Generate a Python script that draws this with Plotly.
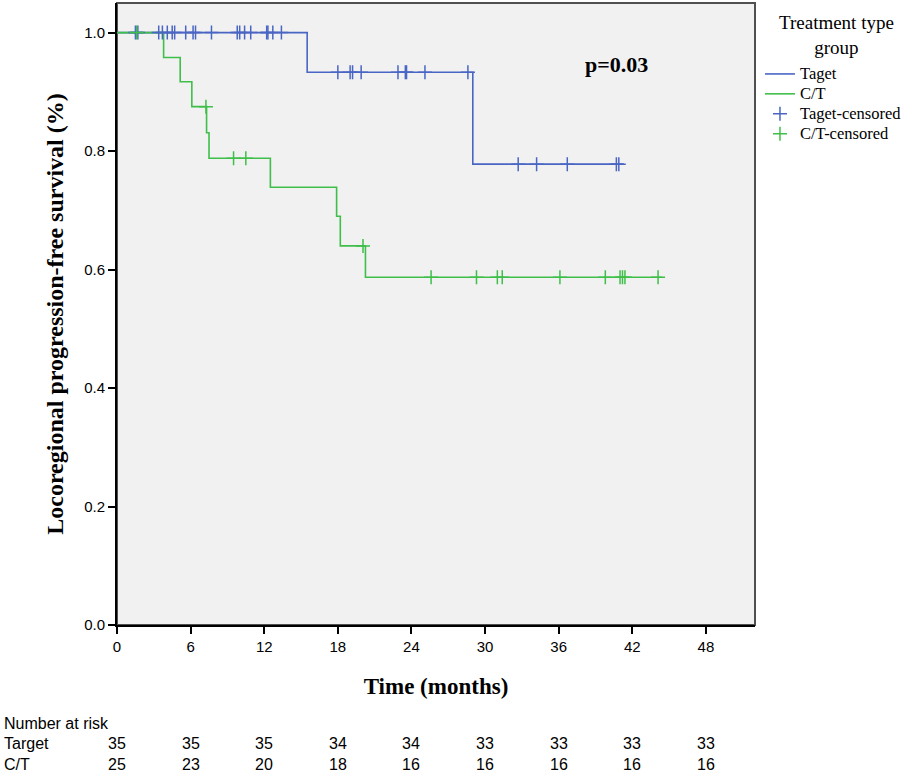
import numpy as np
import plotly.graph_objects as go

# ── Data ───────────────────────────────────────────────────────────────────
target_event_times = [15.5, 29.0]
target_event_surv = [0.933, 0.778]
target_last_time = 41.3
target_censor_times = [1.5, 1.7, 3.4, 3.7, 4.1, 4.5, 4.7, 5.6, 6.2, 6.4, 7.7,
                       9.8, 10.0, 10.4, 10.9, 12.2, 12.3, 12.7, 13.4,
                       18.0, 19.0, 19.2, 19.9, 22.9, 23.5, 23.6, 25.1, 28.6,
                       32.7, 34.2, 36.7, 40.7, 40.9]

ct_event_times = [3.8, 5.15, 6.1, 7.3, 7.5, 12.5, 17.9, 18.2, 20.25]
ct_event_surv = [0.958, 0.917, 0.875, 0.831, 0.788, 0.739, 0.690, 0.640, 0.587]
ct_last_time = 44.4
ct_censor_times = [1.6, 7.25, 9.5, 10.5, 20.05, 25.6, 29.3, 31.0, 31.4,
                   36.1, 39.8, 41.0, 41.2, 41.4, 44.1]

risk_times = [0, 6, 12, 18, 24, 30, 36, 42, 48]
target_risk = [35, 35, 35, 34, 34, 33, 33, 33, 33]
ct_risk = [25, 23, 20, 18, 16, 16, 16, 16, 16]

BLUE = '#4A66C4'
GREEN = '#3FBF4A'
SERIF = 'Liberation Serif, Times New Roman, serif'
SANS = 'Liberation Sans Narrow, Liberation Sans, Arial, sans-serif'


def step_curve(times, surv, last):
    x = [0.0] + list(times) + [last]
    y = [1.0] + list(surv) + [surv[-1]]
    return x, y


def surv_at(t_list, times, surv):
    lv = np.concatenate([[1.0], surv])
    idx = np.searchsorted(np.array(times), np.array(t_list), side='right')
    return lv[idx]


def legend_name(txt):
    # larger glyphs than the legend's line spacing allows
    return f'<span style="font-size:16.5px">{txt}</span>'


fig = go.Figure()

for name, times, surv, last, col in [
        ('Taget', target_event_times, target_event_surv, target_last_time, BLUE),
        ('C/T', ct_event_times, ct_event_surv, ct_last_time, GREEN)]:
    sx, sy = step_curve(times, surv, last)
    fig.add_trace(go.Scatter(x=sx, y=sy, mode='lines', name=legend_name(name),
                             line=dict(color=col, width=1.6, shape='hv')))

for name, ctimes, times, surv, col in [
        ('Taget-censored', target_censor_times, target_event_times, target_event_surv, BLUE),
        ('C/T-censored', ct_censor_times, ct_event_times, ct_event_surv, GREEN)]:
    fig.add_trace(go.Scatter(
        x=ctimes, y=surv_at(ctimes, times, surv), mode='markers',
        name=legend_name(name),
        marker=dict(symbol='cross-thin', size=10, color=col,
                    line=dict(color=col, width=1.5))))

# p value
fig.add_annotation(x=40.7, y=0.946, xref='x', yref='y', text='<b>p=0.03</b>',
                   showarrow=False, font=dict(family=SERIF, size=22, color='black'))

# legend title (centred two lines)
fig.add_annotation(x=1.1285, y=0.9486, xref='paper', yref='paper',
                   text='Treatment type<br>group', showarrow=False,
                   xanchor='center', yanchor='middle', align='center',
                   font=dict(family=SERIF, size=19, color='black'))

# number-at-risk table
row_y = [-0.158, -0.191, -0.2235]
fig.add_annotation(x=-0.18, y=row_y[0], xref='paper', yref='paper',
                   text='Number at risk', showarrow=False, xanchor='left',
                   yanchor='middle', font=dict(family=SANS, size=16, color='black'))
for label, vals, ry in [('Target', target_risk, row_y[1]), ('C/T', ct_risk, row_y[2])]:
    fig.add_annotation(x=-0.18, y=ry, xref='paper', yref='paper', text=label,
                       showarrow=False, xanchor='left', yanchor='middle',
                       font=dict(family=SANS, size=16, color='black'))
    for t, v in zip(risk_times, vals):
        fig.add_annotation(x=t, y=ry, xref='x', yref='paper', text=str(v),
                           showarrow=False, xanchor='center', yanchor='middle',
                           font=dict(family=SANS, size=16, color='black'))

# gray frame round the plot area
fig.add_shape(type='rect', xref='paper', yref='paper', x0=0, y0=0, x1=1, y1=1,
              line=dict(color='#505050', width=2), layer='below')

fig.update_xaxes(range=[0, 52], tickvals=risk_times, ticks='outside', ticklen=7,
                 tickwidth=1.5, tickcolor='black', showline=True, linecolor='black',
                 linewidth=2, showgrid=False, zeroline=False,
                 tickfont=dict(family=SANS, size=15, color='black'),
                 title=dict(text='<b>Time (months)</b>', standoff=24,
                            font=dict(family=SERIF, size=23, color='black')))
fig.update_yaxes(range=[0, 1.05], tickvals=[0, 0.2, 0.4, 0.6, 0.8, 1.0],
                 tickformat='.1f', ticks='outside', ticklen=7, tickwidth=1.5,
                 tickcolor='black', showline=True, linecolor='black', linewidth=2,
                 showgrid=False, zeroline=False,
                 tickfont=dict(family=SANS, size=15, color='black'),
                 title=dict(text='<b>Locoregional progression-free survival (%)</b>',
                            standoff=14,
                            font=dict(family=SERIF, size=24, color='black')))

fig.update_layout(
    width=912, height=777,
    margin=dict(l=117, r=157, t=3, b=152),
    paper_bgcolor='white', plot_bgcolor='#F1F1F1',
    legend=dict(x=1.0078, y=0.91, xanchor='left', yanchor='top',
                font=dict(family=SERIF, size=13, color='black'),
                tracegroupgap=0, bgcolor='rgba(0,0,0,0)'),
)

fig.write_html('out.html', config={'displayModeBar': False},
               post_script="document.body.style.margin='0';")
